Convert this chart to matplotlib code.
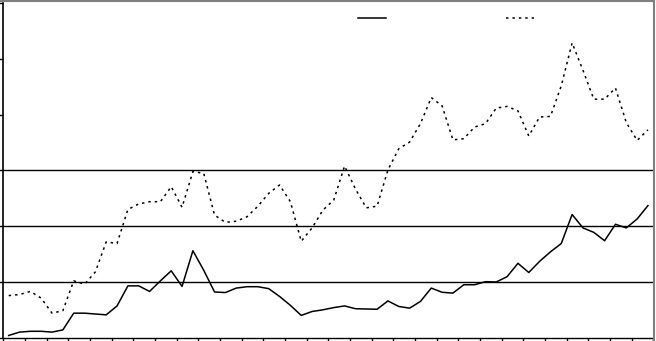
import numpy as np
import matplotlib
matplotlib.use('Agg')
import matplotlib.pyplot as plt
from matplotlib.lines import Line2D

# values, one per period (y in axis units, 0-60)
solid_series = [0.4, 1.0, 1.15, 1.15, 1.0, 1.4, 4.4, 4.4, 4.25, 4.1,
                5.7, 9.3, 9.3, 8.3, 10.2, 12.0, 9.2, 15.6, 12.1, 8.2,
                8.1, 8.9, 9.15, 9.15, 8.8, 7.4, 5.8, 4.0, 4.7, 5.0,
                5.4, 5.7, 5.2, 5.15, 5.1, 6.6, 5.6, 5.3, 6.5, 8.9,
                8.15, 8.0, 9.5, 9.5, 10.05, 10.0, 10.95, 13.35, 11.7, 13.7,
                15.4, 16.9, 22.1, 19.7, 18.9, 17.4, 20.35, 19.7, 21.3, 23.7]
dotted_series = [7.55, 7.75, 8.3, 7.1, 4.4, 4.85, 10.2, 9.6, 11.8, 17.2,
                 16.9, 23.0, 24.0, 24.4, 24.4, 27.1, 23.4, 29.8, 29.5, 22.0,
                 20.7, 20.9, 21.7, 23.6, 25.9, 27.4, 24.4, 17.3, 19.7, 22.9,
                 24.7, 30.8, 26.7, 23.3, 23.6, 30.1, 33.9, 35.1, 38.4, 43.1,
                 41.6, 35.5, 35.7, 37.8, 38.4, 41.2, 41.5, 40.7, 36.2, 39.6,
                 39.7, 45.2, 52.9, 48.0, 42.8, 42.8, 44.8, 38.6, 35.4, 37.3]
periods = np.arange(len(solid_series))
grid_levels = [10, 20, 30]

fig = plt.figure(figsize=(6.56, 3.41), dpi=100)
ax = fig.add_axes([0.005, 0.0097, 0.991, 0.9806])

for g in grid_levels:
    ax.axhline(g, color='black', lw=1.0, zorder=1)

ax.plot(periods, solid_series, color='black', lw=1.1, label=' ', zorder=3)
ax.plot(periods, dotted_series, color='black', lw=1.1, linestyle=(0, (1.6, 2.6)), label=' ', zorder=3)

ax.set_xlim(-0.5, len(periods) - 0.5)
ax.set_ylim(0, 60)
ax.set_xticks(np.arange(-0.5, len(periods), 2))
ax.set_yticks(np.arange(0, 61, 10))
ax.tick_params(axis='both', direction='out', length=3, width=1, labelleft=False, labelbottom=False)

for side in ['top', 'right']:
    ax.spines[side].set_visible(False)
ax.spines['left'].set_linewidth(1.2)
ax.spines['bottom'].set_linewidth(1.0)

ax.legend(loc='upper left', bbox_to_anchor=(0.527, 1.013), ncol=2, frameon=False,
          handlelength=2.0, handletextpad=0.4, columnspacing=7.9, fontsize=10)

# grey chart-area border (top and right edges)
fig.add_artist(Line2D([0, 0.997], [0.998, 0.998], color='#808080', lw=1.5, transform=fig.transFigure))
fig.add_artist(Line2D([0.997, 0.997], [0, 0.998], color='#808080', lw=1.5, transform=fig.transFigure))

fig.savefig('out.png', dpi=100, facecolor='white')
